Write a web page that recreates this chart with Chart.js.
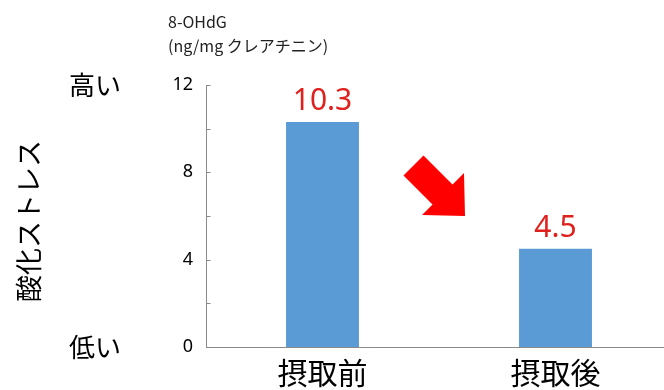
<!DOCTYPE html>
<html>
<head>
<meta charset="utf-8">
<script src="https://cdn.jsdelivr.net/npm/chart.js@4.4.1/dist/chart.umd.min.js"></script>
<style>
  html, body { margin: 0; padding: 0; background: #fff; overflow: hidden; }
  #wrap { width: 672px; height: 390px; position: relative; }
</style>
</head>
<body>
<div id="wrap"><canvas id="c" width="672" height="390"></canvas></div>
<script>
const categories = ['摂取前', '摂取後'];
const values = [10.3, 4.5];
const valueLabels = ['10.3', '4.5'];
const yTickLabels = [0, 4, 8, 12];
const yTickMarks = [0, 2, 4, 6, 8, 10, 12];
const titleLines = ['8-OHdG', '(ng/mg クレアチニン)'];
const axisTitle = '酸化ストレス';
const highLow = ['高い', '低い'];

const JP = '"Noto Sans CJK JP", "Noto Sans", sans-serif';
const NUM = '"Noto Sans", "Liberation Sans", sans-serif';

const decor = {
  id: 'decor',
  afterDatasetsDraw(chart) {
    const ctx = chart.ctx;
    const y = chart.scales.y;
    const meta = chart.getDatasetMeta(0);
    ctx.save();
    // inward tick marks
    ctx.strokeStyle = '#8a8a8a';
    ctx.lineWidth = 1;
    const ax = Math.round(chart.chartArea.left) + 0.5;
    yTickMarks.forEach(v => {
      const py = Math.round(y.getPixelForValue(v)) + 0.5;
      ctx.beginPath();
      ctx.moveTo(ax, py);
      ctx.lineTo(ax + 4, py);
      ctx.stroke();
    });
    // value labels
    ctx.fillStyle = '#e0201c';
    ctx.font = '30px ' + NUM;
    ctx.textAlign = 'center';
    ctx.textBaseline = 'alphabetic';
    meta.data.forEach((bar, i) => {
      ctx.fillText(valueLabels[i], bar.x, bar.y - 12);
    });
    // title lines
    ctx.fillStyle = '#222';
    ctx.textAlign = 'left';
    ctx.font = '16px ' + JP;
    ctx.fillText(titleLines[0], 168, 28);
    ctx.fillText(titleLines[1], 168, 52);
    // high / low
    ctx.fillStyle = '#000';
    ctx.font = '26px ' + JP;
    ctx.textBaseline = 'middle';
    ctx.fillText(highLow[0], 69, y.getPixelForValue(12));
    ctx.fillText(highLow[1], 69, y.getPixelForValue(0));
    // vertical axis title
    ctx.save();
    ctx.translate(29, 221);
    ctx.rotate(-Math.PI / 2);
    ctx.textAlign = 'center';
    ctx.font = '27px ' + JP;
    ctx.fillText(axisTitle, 0, 0);
    ctx.restore();
    // arrow
    ctx.fillStyle = '#ff0000';
    ctx.beginPath();
    ctx.moveTo(423.5, 155.5);
    ctx.lineTo(403.5, 175.5);
    ctx.lineTo(432.5, 204.5);
    ctx.lineTo(422, 215);
    ctx.lineTo(465, 216);
    ctx.lineTo(464, 173);
    ctx.lineTo(452.5, 184.5);
    ctx.closePath();
    ctx.fill();
    ctx.restore();
  }
};

new Chart(document.getElementById('c'), {
  type: 'bar',
  data: {
    labels: categories,
    datasets: [{
      data: values,
      backgroundColor: '#5b9bd5',
      borderWidth: 0,
      barPercentage: 0.626,
      categoryPercentage: 0.5
    }]
  },
  options: {
    responsive: false,
    animation: false,
    devicePixelRatio: 1,
    layout: { padding: { top: 85, left: 120, right: 0, bottom: 0 } },
    plugins: { legend: { display: false }, tooltip: { enabled: false } },
    scales: {
      x: {
        afterFit(s) { s.height = 43; },
        grid: { display: false },
        border: { display: true, color: '#8a8a8a', width: 1 },
        ticks: { color: '#000', font: { size: 30, family: JP, lineHeight: 1 }, padding: 3 }
      },
      y: {
        min: 0, max: 12,
        afterFit(s) { s.width = 86; },
        afterBuildTicks(s) {
          s.ticks = yTickLabels.map(v => ({ value: v }));
        },
        grid: { display: false, drawTicks: false },
        border: { display: true, color: '#8a8a8a', width: 1 },
        ticks: {
          color: '#000',
          font: { size: 18, family: NUM },
          padding: 13
        }
      }
    }
  },
  plugins: [decor]
});
</script>
</body>
</html>
